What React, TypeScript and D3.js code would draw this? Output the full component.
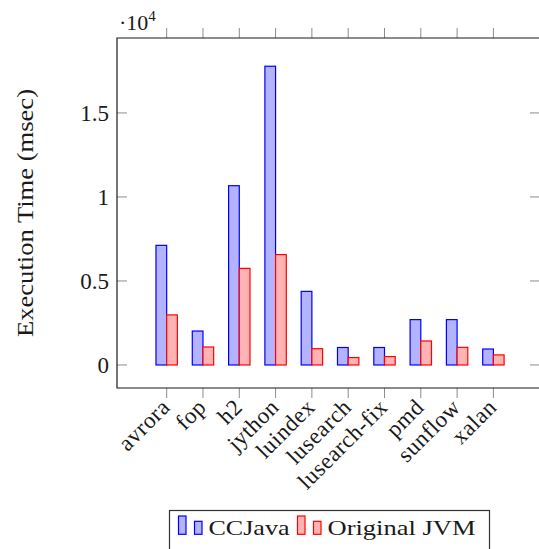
import React, { useEffect, useRef } from "react";
import * as d3 from "d3";

const W = 539;
const H = 549;

const categories = ["avrora", "fop", "h2", "jython", "luindex", "lusearch", "lusearch-fix", "pmd", "sunflow", "xalan"];
const seriesNames = ["CCJava", "Original JVM"];
const ccjava = [7120, 2020, 10670, 17780, 4380, 1040, 1040, 2700, 2700, 950];
const originalJvm = [2980, 1070, 5750, 6570, 970, 440, 500, 1430, 1050, 600];
const yTicks = [0, 5000, 10000, 15000];
const yTickLabels = ["0", "0.5", "1", "1.5"];

const STYLE = [
  { fill: "#b3b3ff", stroke: "#0000ff" },
  { fill: "#ffb3b3", stroke: "#ff0000" },
];

const FONT = "'Liberation Serif', 'DejaVu Serif', serif";
const FS = "23px";

// plot box
const PL = 117;
const PR = 540;
const PT = 38;
const PB = 388;
const TICK = 10;
const BAR_W = 10.7;

const App = () => {
  const svgRef = useRef<SVGSVGElement | null>(null);

  useEffect(() => {
    if (!svgRef.current) return;
    const svg = d3.select(svgRef.current);
    svg.selectAll("*").remove();

    const x = d3.scalePoint<string>().domain(categories).range([PL, PR]).padding(1.326).align(0.516);
    const xs = d3.scaleBand<string>().domain(seriesNames).range([-BAR_W, BAR_W]);
    const y = d3.scaleLinear().domain([-1370, 19460]).range([PB, PT]);

    const series = [ccjava, originalJvm];

    // ── Bars ──────────────────────────────────────────────────────────────
    series.forEach((vals, si) => {
      svg.append("g")
        .selectAll("rect")
        .data(vals)
        .join("rect")
        .attr("x", (_, i) => (x(categories[i]) as number) + (xs(seriesNames[si]) as number))
        .attr("y", d => y(d))
        .attr("width", xs.bandwidth())
        .attr("height", d => y(0) - y(d))
        .attr("fill", STYLE[si].fill)
        .attr("stroke", STYLE[si].stroke)
        .attr("stroke-width", 1.2);
    });

    // ── Ticks ─────────────────────────────────────────────────────────────
    const tickG = svg.append("g").attr("stroke", "#8c8c8c").attr("stroke-width", 1);
    yTicks.forEach(t => {
      tickG.append("line").attr("x1", PL).attr("x2", PL + TICK).attr("y1", y(t)).attr("y2", y(t));
      tickG.append("line").attr("x1", PR - TICK).attr("x2", PR).attr("y1", y(t)).attr("y2", y(t));
    });
    categories.forEach(c => {
      const cx = x(c) as number;
      tickG.append("line").attr("x1", cx).attr("x2", cx).attr("y1", PB).attr("y2", PB + TICK);
      tickG.append("line").attr("x1", cx).attr("x2", cx).attr("y1", PT - TICK).attr("y2", PT);
    });

    // ── Axis box ──────────────────────────────────────────────────────────
    svg.append("path")
      .attr("d", `M${PR},${PT}H${PL}V${PB}H${PR}V${PT}`)
      .attr("fill", "none")
      .attr("stroke", "#1a1a1a")
      .attr("stroke-width", 1.2);

    // ── Tick labels ───────────────────────────────────────────────────────
    yTicks.forEach((t, i) => {
      svg.append("text")
        .attr("x", PL - 8).attr("y", y(t))
        .attr("dy", "0.34em")
        .attr("text-anchor", "end")
        .attr("font-family", FONT).attr("font-size", FS)
        .attr("fill", "#1a1a1a")
        .text(yTickLabels[i]);
    });

    categories.forEach(c => {
      svg.append("text")
        .attr("transform", `translate(${(x(c) as number) - 1},${PB + TICK + 5}) rotate(-45)`)
        .attr("dy", "0.34em")
        .attr("text-anchor", "end")
        .attr("letter-spacing", "0.5px")
        .attr("font-family", FONT).attr("font-size", FS)
        .attr("fill", "#1a1a1a")
        .text(c);
    });

    // ── Scale factor ·10^4 ────────────────────────────────────────────────
    const sf = svg.append("text")
      .attr("x", PL + 2).attr("y", 30)
      .attr("font-family", FONT).attr("font-size", "22px")
      .attr("fill", "#1a1a1a");
    sf.append("tspan").text("·10");
    sf.append("tspan").attr("dy", -9).attr("font-size", "15px").text("4");

    // ── Y label ───────────────────────────────────────────────────────────
    svg.append("text")
      .attr("transform", `translate(33,${(PT + PB) / 2}) rotate(-90)`)
      .attr("text-anchor", "middle")
      .attr("textLength", 248)
      .attr("lengthAdjust", "spacingAndGlyphs")
      .attr("font-family", FONT).attr("font-size", FS)
      .attr("fill", "#1a1a1a")
      .text("Execution Time (msec)");

    // ── Legend ────────────────────────────────────────────────────────────
    const legG = svg.append("g");
    legG.append("rect")
      .attr("x", 169.5).attr("y", 510.5)
      .attr("width", 320).attr("height", 60)
      .attr("fill", "white")
      .attr("stroke", "#333").attr("stroke-width", 1.2);

    const legX = [178.5, 297.5];
    const legLen = [81, 148];
    seriesNames.forEach((name, si) => {
      const lx = legX[si];
      legG.append("rect")
        .attr("x", lx).attr("y", 516)
        .attr("width", 7.5).attr("height", 18.3)
        .attr("fill", STYLE[si].fill).attr("stroke", STYLE[si].stroke).attr("stroke-width", 1.2);
      legG.append("rect")
        .attr("x", lx + 16).attr("y", 521.3)
        .attr("width", 7.5).attr("height", 13)
        .attr("fill", STYLE[si].fill).attr("stroke", STYLE[si].stroke).attr("stroke-width", 1.2);
      legG.append("text")
        .attr("x", lx + 30).attr("y", 534.5)
        .attr("textLength", legLen[si])
        .attr("lengthAdjust", "spacingAndGlyphs")
        .attr("font-family", FONT).attr("font-size", "22px")
        .attr("fill", "#1a1a1a")
        .text(name);
    });
  }, []);

  return (
    <svg
      ref={svgRef}
      width={W}
      height={H}
      style={{ position: "absolute", left: 0, top: 0, background: "white" }}
    />
  );
};

export default App;
